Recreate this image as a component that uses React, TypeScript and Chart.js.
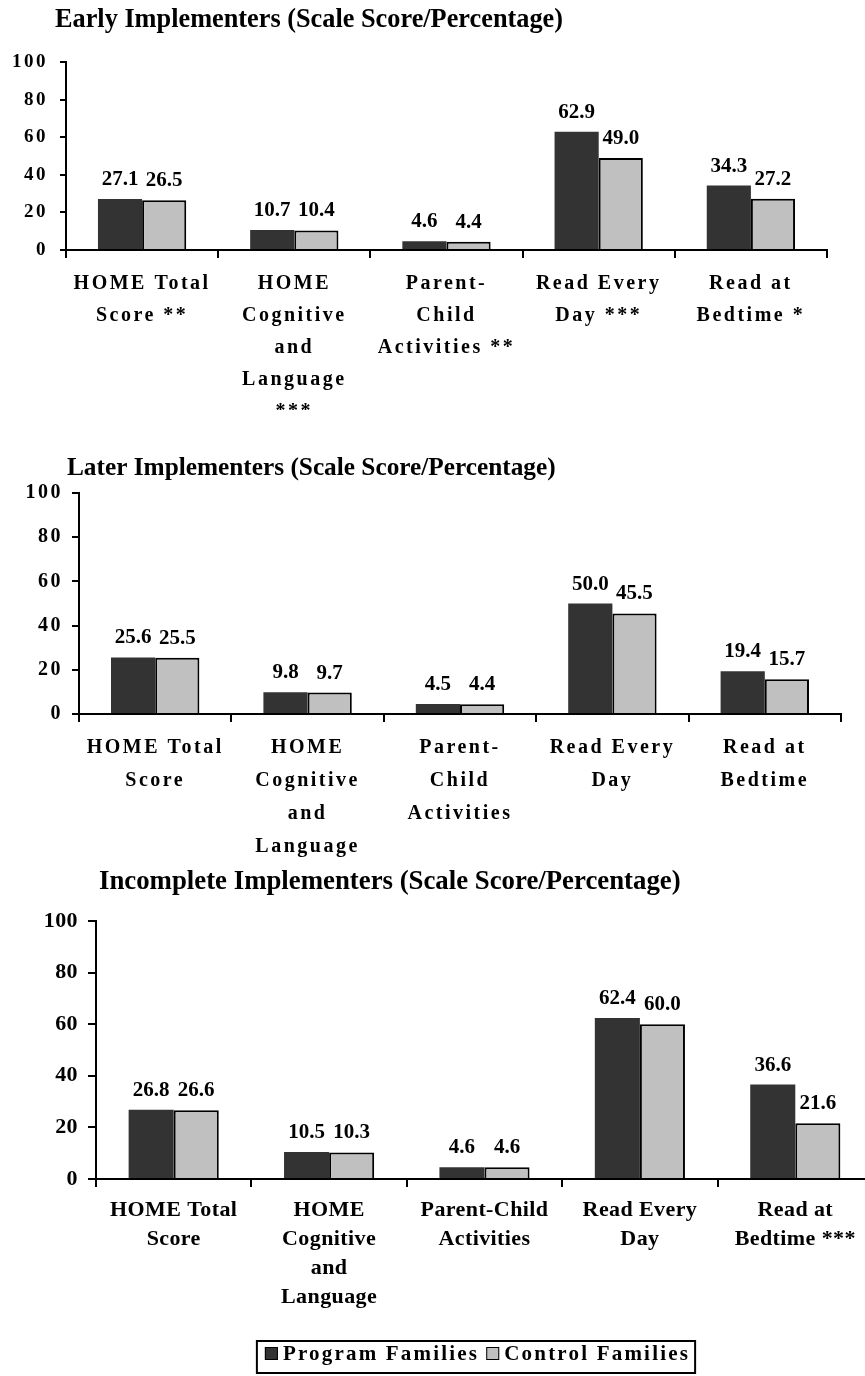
import React, { useEffect, useRef } from 'react';
import { Chart, registerables } from 'chart.js';

Chart.register(...registerables);

const seriesNames = ['Program Families', 'Control Families'];

const categoriesEarly = [
  ['HOME Total', 'Score **'],
  ['HOME', 'Cognitive', 'and', 'Language', '***'],
  ['Parent-', 'Child', 'Activities **'],
  ['Read Every', 'Day ***'],
  ['Read at', 'Bedtime *'],
];
const earlyProgram = [27.1, 10.7, 4.6, 62.9, 34.3];
const earlyControl = [26.5, 10.4, 4.4, 49.0, 27.2];

const categoriesLater = [
  ['HOME Total', 'Score'],
  ['HOME', 'Cognitive', 'and', 'Language'],
  ['Parent-', 'Child', 'Activities'],
  ['Read Every', 'Day'],
  ['Read at', 'Bedtime'],
];
const laterProgram = [25.6, 9.8, 4.5, 50.0, 19.4];
const laterControl = [25.5, 9.7, 4.4, 45.5, 15.7];

const categoriesIncomplete = [
  ['HOME Total', 'Score'],
  ['HOME', 'Cognitive', 'and', 'Language'],
  ['Parent-Child', 'Activities'],
  ['Read Every', 'Day'],
  ['Read at', 'Bedtime ***'],
];
const incompleteProgram = [26.8, 10.5, 4.6, 62.4, 36.6];
const incompleteControl = [26.6, 10.3, 4.6, 60.0, 21.6];

const titles = [
  'Early Implementers (Scale Score/Percentage)',
  'Later Implementers (Scale Score/Percentage)',
  'Incomplete Implementers (Scale Score/Percentage)',
];

const yMin = 0;
const yMax = 100;
const yStep = 20;

const SERIF = "'Liberation Serif', 'Times New Roman', serif";
const DARK = '#333333';
const LIGHT = '#C0C0C0';

type Spec = {
  top: number;
  width: number;
  height: number;
  title: string;
  titleX: number;
  titleY: number;
  titleSize: number;
  labels: string[][];
  program: number[];
  control: number[];
  pad: { left: number; top: number; right: number; bottom: number };
  yWidth: number;
  xHeight: number;
  yFont: number;
  yTickLen: number;
  yPad: number;
  xFont: number;
  xLine: number;
  xPad: number;
  spacing: string;
  dataFont: number;
  dataGap: number;
  legend: null | { cx: number; top: number; bottom: number; font: number; spacing: string; baseline: number };
};

const specs: Spec[] = [
  {
    top: 0, width: 865, height: 440,
    title: titles[0], titleX: 55, titleY: 20, titleSize: 26.3,
    labels: categoriesEarly, program: earlyProgram, control: earlyControl,
    pad: { left: 0, top: 62, right: 38, bottom: 30 },
    yWidth: 66, xHeight: 160,
    yFont: 19, yTickLen: 6, yPad: 12,
    xFont: 20, xLine: 32, xPad: 10,
    spacing: '2.5px', dataFont: 21, dataGap: 14, legend: null,
  },
  {
    top: 440, width: 865, height: 430,
    title: titles[1], titleX: 67, titleY: 28, titleSize: 25.3,
    labels: categoriesLater, program: laterProgram, control: laterControl,
    pad: { left: 0, top: 53, right: 24, bottom: 6 },
    yWidth: 79, xHeight: 150,
    yFont: 20, yTickLen: 7, yPad: 9,
    xFont: 20, xLine: 33, xPad: 9.5,
    spacing: '2.5px', dataFont: 21, dataGap: 14, legend: null,
  },
  {
    top: 860, width: 880, height: 516,
    title: titles[2], titleX: 99, titleY: 22, titleSize: 26.8,
    labels: categoriesIncomplete, program: incompleteProgram, control: incompleteControl,
    pad: { left: 0, top: 61, right: 7, bottom: 57 },
    yWidth: 96, xHeight: 140,
    yFont: 22, yTickLen: 8, yPad: 10,
    xFont: 22, xLine: 29, xPad: 9,
    spacing: '0.4px', dataFont: 21, dataGap: 14,
    legend: { cx: 476.5, top: 481, bottom: 513, font: 21, spacing: '2.2px', baseline: 500 },
  },
];

function buildChart(canvas: HTMLCanvasElement, s: Spec) {
  const spacingPlugin = {
    id: 'letterSpacing',
    beforeLayout: (c: any) => { c.ctx.letterSpacing = s.spacing; },
    afterLayout: (c: any) => { c.ctx.letterSpacing = '0px'; },
    beforeDraw: (c: any) => { c.ctx.letterSpacing = s.spacing; },
    beforeDatasetsDraw: (c: any) => { c.ctx.letterSpacing = '0px'; },
  };

  const labelPlugin = {
    id: 'valueLabels',
    afterDatasetsDraw: (c: any) => {
      const ctx = c.ctx;
      ctx.save();
      ctx.letterSpacing = '0px';
      ctx.font = `bold ${s.dataFont}px ${SERIF}`;
      ctx.fillStyle = '#000';
      ctx.textAlign = 'center';
      ctx.textBaseline = 'alphabetic';
      c.data.datasets.forEach((ds: any, i: number) => {
        c.getDatasetMeta(i).data.forEach((bar: any, j: number) => {
          ctx.fillText(Number(ds.data[j]).toFixed(1), bar.x, bar.y - s.dataGap);
        });
      });
      ctx.restore();
    },
  };

  const titlePlugin = {
    id: 'plainTitle',
    afterDraw: (c: any) => {
      const ctx = c.ctx;
      ctx.save();
      ctx.letterSpacing = '0px';
      ctx.font = `bold ${s.titleSize}px ${SERIF}`;
      ctx.fillStyle = '#000';
      ctx.textAlign = 'left';
      ctx.textBaseline = 'middle';
      ctx.fillText(s.title, s.titleX, s.titleY);
      ctx.restore();
    },
  };

  const legendPlugin = {
    id: 'boxLegend',
    afterDraw: (c: any) => {
      const lg = s.legend;
      if (!lg) return;
      const ctx = c.ctx;
      ctx.save();
      ctx.letterSpacing = lg.spacing;
      ctx.font = `bold ${lg.font}px ${SERIF}`;
      const items = c.data.datasets.map((ds: any) => ({ text: ds.label, color: ds.backgroundColor }));
      const sq = 13;
      const g1 = 5;
      const g2 = 7;
      const widths = items.map((it: any) => ctx.measureText(it.text).width);
      const content = widths.reduce((a: number, w: number) => a + sq + g1 + w, 0) + g2 * (items.length - 1);
      let x = lg.cx - content / 2 + 1;
      const boxL = x - 8;
      const boxR = x + content + 5;
      ctx.strokeStyle = '#000';
      ctx.lineWidth = 2;
      ctx.strokeRect(boxL, lg.top, boxR - boxL, lg.bottom - lg.top);
      items.forEach((it: any, i: number) => {
        const sqTop = lg.baseline - 13;
        ctx.fillStyle = it.color;
        ctx.fillRect(x, sqTop, sq, sq);
        ctx.lineWidth = 1;
        ctx.strokeRect(x + 0.5, sqTop + 0.5, sq - 1, sq - 1);
        x += sq + g1;
        ctx.fillStyle = '#000';
        ctx.textAlign = 'left';
        ctx.textBaseline = 'alphabetic';
        ctx.fillText(it.text, x, lg.baseline);
        x += widths[i] + g2;
      });
      ctx.restore();
    },
  };

  return new Chart(canvas, {
    type: 'bar',
    data: {
      labels: s.labels,
      datasets: [
        { label: seriesNames[0], data: s.program, backgroundColor: DARK, borderColor: DARK, borderWidth: 0 },
        { label: seriesNames[1], data: s.control, backgroundColor: LIGHT, borderColor: '#000', borderWidth: 2 },
      ],
    },
    options: {
      responsive: false,
      animation: false,
      devicePixelRatio: 1,
      events: [],
      layout: { padding: s.pad },
      datasets: { bar: { categoryPercentage: 0.58, barPercentage: 1 } },
      plugins: {
        legend: { display: false },
        title: { display: false },
        tooltip: { enabled: false },
      },
      scales: {
        x: {
          type: 'category',
          offset: true,
          grid: { offset: true, drawOnChartArea: false, drawTicks: true, tickLength: 8, color: '#000', lineWidth: 2 },
          border: { display: true, color: '#000', width: 2 },
          ticks: {
            autoSkip: false,
            maxRotation: 0,
            minRotation: 0,
            padding: s.xPad,
            color: '#000',
            font: { family: SERIF, size: s.xFont, weight: 'bold', lineHeight: `${s.xLine}px` },
          },
          afterFit: (scale: any) => { scale.height = s.xHeight; },
        },
        y: {
          min: yMin,
          max: yMax,
          grid: { drawOnChartArea: false, drawTicks: true, tickLength: s.yTickLen, color: '#000', lineWidth: 2 },
          border: { display: true, color: '#000', width: 2 },
          ticks: {
            stepSize: yStep,
            padding: s.yPad,
            color: '#000',
            font: { family: SERIF, size: s.yFont, weight: 'bold' },
          },
          afterFit: (scale: any) => { scale.width = s.yWidth; },
        },
      },
    } as any,
    plugins: [spacingPlugin, labelPlugin, titlePlugin, legendPlugin],
  });
}

function ChartBlock({ spec }: { spec: Spec }) {
  const ref = useRef<HTMLCanvasElement | null>(null);
  useEffect(() => {
    if (!ref.current) return;
    const chart = buildChart(ref.current, spec);
    return () => chart.destroy();
  }, [spec]);
  return (
    <canvas
      ref={ref}
      width={spec.width}
      height={spec.height}
      style={{ position: 'absolute', left: 0, top: spec.top, width: spec.width, height: spec.height }}
    />
  );
}

export default function App() {
  return (
    <div
      style={{
        position: 'fixed',
        left: 0,
        top: 0,
        width: 865,
        height: 1376,
        overflow: 'hidden',
        background: '#fff',
      }}
    >
      {specs.map((s, i) => (
        <ChartBlock key={i} spec={s} />
      ))}
    </div>
  );
}
